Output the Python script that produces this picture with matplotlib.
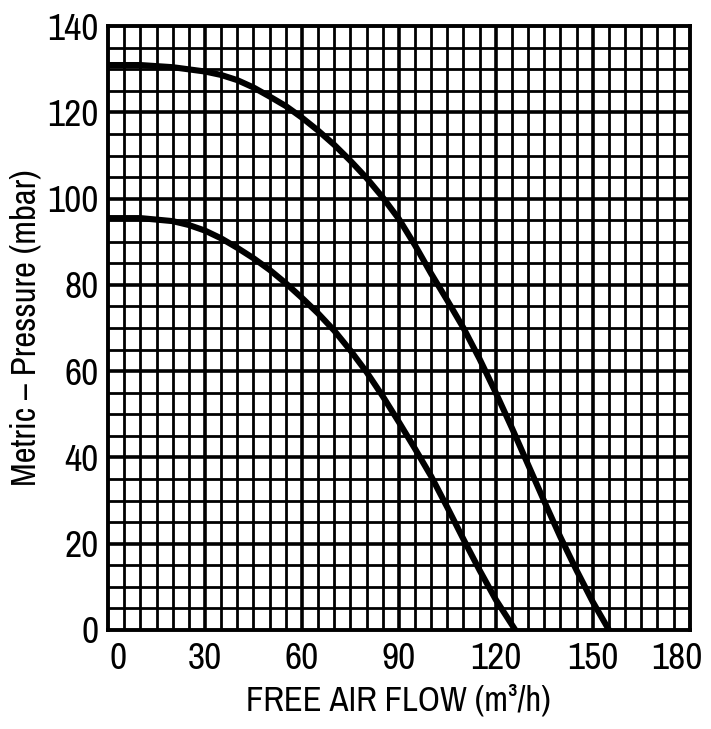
import numpy as np
import matplotlib.pyplot as plt
import matplotlib.transforms as mtransforms
from matplotlib import font_manager

# Pump curves
upper_flow = [0, 10, 20, 30, 35, 40, 45, 50, 55, 60, 65, 70, 75, 80, 85, 90, 95, 100,
              105, 110, 115, 120, 125, 130, 135, 140, 145, 150, 155]
upper_pressure = [131, 131, 130.5, 129.5, 128.7, 127.5, 125.8, 123.7, 121.5, 118.8, 115.8, 112.5,
                  108.8, 104.8, 100.3, 95.3, 89.2, 82.6, 76.4, 70, 62.8, 55, 46.8, 38.3,
                  29.8, 21.5, 13.8, 6.5, 0]

lower_flow = [0, 10, 20, 25, 30, 35, 40, 45, 50, 55, 60, 65, 70, 75, 80, 85, 90, 95,
              100, 105, 110, 115, 120, 126]
lower_pressure = [95.5, 95.5, 94.8, 93.9, 92.6, 90.8, 88.6, 86.2, 83.5, 80.4, 77, 73.4, 69.4,
                  64.8, 59.8, 54.2, 48.2, 42, 35.6, 28.4, 21, 13.8, 7, 0]

x_ticks = [0, 30, 60, 90, 120, 150, 180]
y_ticks = [0, 20, 40, 60, 80, 100, 120, 140]

# pick a narrow sans if one is installed
narrow = None
for f in font_manager.fontManager.ttflist:
    if ('Narrow' in f.name or 'Condensed' in f.name) and 'Mono' not in f.name:
        narrow = f.name
        break
fams = [narrow, 'DejaVu Sans'] if narrow else ['DejaVu Sans']
plt.rcParams['font.family'] = fams
plt.rcParams['font.stretch'] = 'condensed'

fig = plt.figure(figsize=(7.11, 7.29), dpi=100)
ax = fig.add_axes([0.152, 0.136, 0.818, 0.828])

# grid: fine every 5, heavier at labelled values
for x in np.arange(5, 180, 5):
    lw = 2.6 if x % 30 == 0 else 2.0
    ax.axvline(x, color='black', lw=lw, zorder=1)
for y in np.arange(5, 140, 5):
    lw = 2.6 if y % 20 == 0 else 2.0
    ax.axhline(y, color='black', lw=lw, zorder=1)

ax.plot(upper_flow, upper_pressure, color='black', lw=4.4, zorder=3, solid_joinstyle='round')
ax.plot(lower_flow, lower_pressure, color='black', lw=4.4, zorder=3, solid_joinstyle='round')

ax.set_xlim(0, 180)
ax.set_ylim(0, 140)
ax.set_xticks(x_ticks)
ax.set_yticks(y_ticks)
sz = 27 if narrow else 18
ax.tick_params(length=0, labelsize=sz, pad=7)
ax.tick_params(axis='x', pad=9)
for lab in ax.get_xticklabels() + ax.get_yticklabels():
    lab.set_fontweight('bold')

# end labels sit a little inside the frame, as on the original
xl = ax.get_xticklabels()
xl[0].set_transform(xl[0].get_transform() + mtransforms.ScaledTranslation(7 / 72, 0, fig.dpi_scale_trans))
xl[-1].set_transform(xl[-1].get_transform() + mtransforms.ScaledTranslation(-9 / 72, 0, fig.dpi_scale_trans))

for s in ax.spines.values():
    s.set_linewidth(2.8)

lsz = 25 if narrow else 17
ax.set_xlabel('FREE AIR FLOW (m³/h)', fontsize=lsz, labelpad=6)
ax.set_ylabel('Metric – Pressure (mbar)', fontsize=lsz, labelpad=4)

fig.savefig('out.png', dpi=100)
